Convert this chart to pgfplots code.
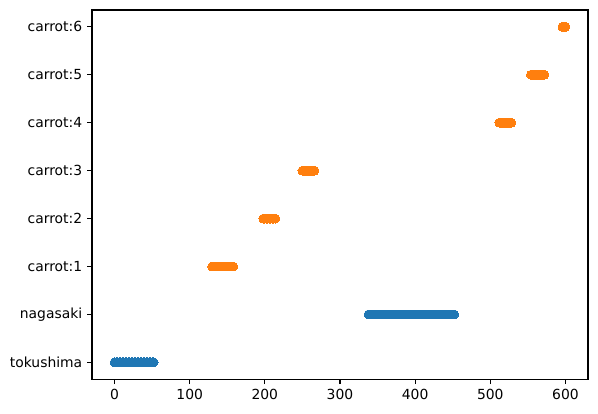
\documentclass[border=0pt]{standalone}
\usepackage{pgfplots}
\pgfplotsset{compat=1.18}
\usepackage{fontspec}
\setmainfont{DejaVu Sans}
\definecolor{mplblue}{HTML}{1F77B4}
\definecolor{mplorange}{HTML}{FF7F0E}
\begin{document}
\begin{tikzpicture}
\begin{axis}[
  scale only axis,
  width=357pt, height=265.7pt,
  xmin=-30, xmax=630,
  ymin=-0.35, ymax=7.35,
  xtick={0,100,200,300,400,500,600},
  ytick={0,1,2,3,4,5,6,7},
  yticklabels={tokushima,nagasaki,carrot:1,carrot:2,carrot:3,carrot:4,carrot:5,carrot:6},
  tick align=outside, tick pos=left,
  major tick length=3.5pt,
  every tick/.style={black, line width=0.8pt},
  axis line style={line width=0.8pt},
  ticklabel style={font=\fontsize{10}{12}\selectfont},
  /pgf/number format/assume math mode=true,
  xticklabel style={yshift=-0.5pt},
  clip=false,
]
% tokushima / nagasaki
\addplot[only marks, mark=*, mark size=3.2pt, color=mplblue, mark options={draw=mplblue, fill=mplblue, line width=0pt}]
coordinates {
(0,0) (2,0) (4,0) (6,0) (8,0) (10,0) (12,0) (14,0) (16,0) (18,0) (20,0) (22,0) (24,0) (26,0)
(28,0) (30,0) (32,0) (34,0) (36,0) (38,0) (40,0) (42,0) (44,0) (46,0) (48,0) (50,0) (52,0)
(338,1) (340,1) (342,1) (344,1) (346,1) (348,1) (350,1) (352,1) (354,1) (356,1) (358,1) (360,1)
(362,1) (364,1) (366,1) (368,1) (370,1) (372,1) (374,1) (376,1) (378,1) (380,1) (382,1) (384,1)
(386,1) (388,1) (390,1) (392,1) (394,1) (396,1) (398,1) (400,1) (402,1) (404,1) (406,1) (408,1)
(410,1) (412,1) (414,1) (416,1) (418,1) (420,1) (422,1) (424,1) (426,1) (428,1) (430,1) (432,1)
(434,1) (436,1) (438,1) (440,1) (442,1) (444,1) (446,1) (448,1) (450,1) (452,1)
};
% carrot:1 .. carrot:6
\addplot[only marks, mark=*, mark size=3.2pt, color=mplorange, mark options={draw=mplorange, fill=mplorange, line width=0pt}]
coordinates {
(130,2) (132,2) (134,2) (136,2) (138,2) (140,2) (142,2) (144,2) (146,2) (148,2) (150,2) (152,2) (154,2) (156,2) (158,2)
(198,3) (200,3) (202,3) (204,3) (206,3) (208,3) (210,3) (212,3) (214,3)
(250,4) (252,4) (254,4) (256,4) (258,4) (260,4) (262,4) (264,4) (266,4)
(512,5) (514,5) (516,5) (518,5) (520,5) (522,5) (524,5) (526,5) (528,5)
(554,6) (556,6) (558,6) (560,6) (562,6) (564,6) (566,6) (568,6) (570,6) (572,6)
(596,7) (598,7) (600,7)
};
\end{axis}
\useasboundingbox (-66.2pt,-24.5pt) rectangle (364.2pt,272.9pt);
\end{tikzpicture}
\end{document}
